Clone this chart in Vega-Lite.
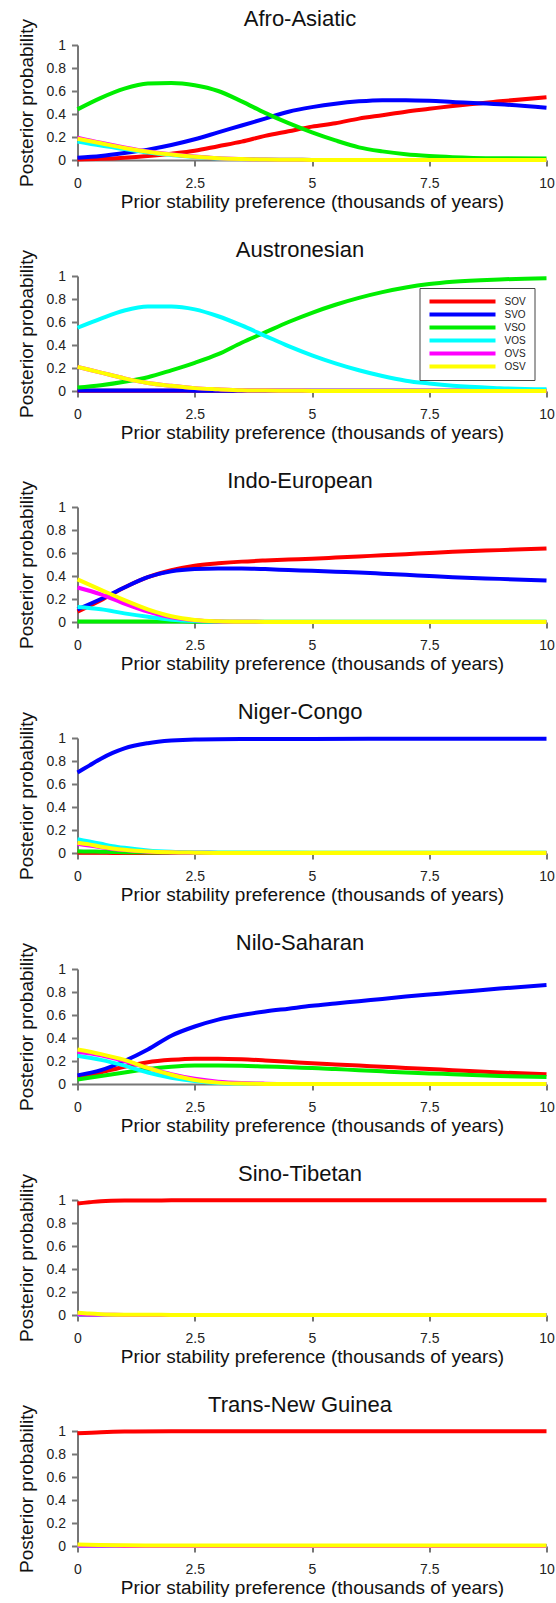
{
  "$schema": "https://vega.github.io/schema/vega-lite/v6.json",
  "padding": {"left": 16.5, "top": 7, "right": 0, "bottom": 0},
  "spacing": 27,
  "config": {
    "view": {"stroke": null},
    "font": "Liberation Sans",
    "axis": {
      "grid": false,
      "domainColor": "#777777",
      "domainWidth": 2,
      "tickColor": "#777777",
      "tickWidth": 2,
      "tickSize": 6,
      "labelFont": "Liberation Sans",
      "labelFontSize": 14,
      "labelColor": "#222222",
      "labelPadding": 10,
      "titleFont": "Liberation Sans",
      "titleFontSize": 19,
      "titleFontWeight": "normal",
      "titleColor": "#111111"
    },
    "axisY": {"labelPadding": 6, "titlePadding": 10},
    "axisX": {"titlePadding": 2, "labelFlush": false},
    "title": {"font": "Liberation Sans", "fontSize": 22, "fontWeight": "normal", "color": "#111111", "frame": "group", "baseline": "alphabetic", "offset": -12, "dx": -12}
  },
  "datasets": {
    "d": [
      {"f":"Afro-Asiatic","x":0,"SOV":0.005,"SVO":0.02,"VSO":0.44,"VOS":0.16,"OVS":0.195,"OSV":0.185},
      {"f":"Afro-Asiatic","x":0.5,"SOV":0.01,"SVO":0.035,"VSO":0.54,"VOS":0.125,"OVS":0.15,"OSV":0.145},
      {"f":"Afro-Asiatic","x":1,"SOV":0.02,"SVO":0.06,"VSO":0.62,"VOS":0.095,"OVS":0.11,"OSV":0.105},
      {"f":"Afro-Asiatic","x":1.5,"SOV":0.035,"SVO":0.09,"VSO":0.665,"VOS":0.065,"OVS":0.075,"OSV":0.072},
      {"f":"Afro-Asiatic","x":2,"SOV":0.055,"SVO":0.13,"VSO":0.67,"VOS":0.043,"OVS":0.05,"OSV":0.047},
      {"f":"Afro-Asiatic","x":2.5,"SOV":0.08,"SVO":0.18,"VSO":0.65,"VOS":0.026,"OVS":0.03,"OSV":0.028},
      {"f":"Afro-Asiatic","x":3,"SOV":0.12,"SVO":0.24,"VSO":0.6,"VOS":0.014,"OVS":0.015,"OSV":0.015},
      {"f":"Afro-Asiatic","x":3.5,"SOV":0.16,"SVO":0.3,"VSO":0.51,"VOS":0.008,"OVS":0.008,"OSV":0.008},
      {"f":"Afro-Asiatic","x":4,"SOV":0.21,"SVO":0.36,"VSO":0.41,"VOS":0.004,"OVS":0.004,"OSV":0.004},
      {"f":"Afro-Asiatic","x":4.5,"SOV":0.25,"SVO":0.42,"VSO":0.32,"VOS":0.002,"OVS":0.002,"OSV":0.002},
      {"f":"Afro-Asiatic","x":5,"SOV":0.29,"SVO":0.46,"VSO":0.24,"VOS":0.001,"OVS":0.001,"OSV":0.001},
      {"f":"Afro-Asiatic","x":5.5,"SOV":0.32,"SVO":0.49,"VSO":0.17,"VOS":0.001,"OVS":0.001,"OSV":0.001},
      {"f":"Afro-Asiatic","x":6,"SOV":0.36,"SVO":0.51,"VSO":0.11,"VOS":0.001,"OVS":0.001,"OSV":0.001},
      {"f":"Afro-Asiatic","x":6.5,"SOV":0.39,"SVO":0.52,"VSO":0.075,"VOS":0.001,"OVS":0.001,"OSV":0.001},
      {"f":"Afro-Asiatic","x":7,"SOV":0.42,"SVO":0.52,"VSO":0.05,"VOS":0.001,"OVS":0.001,"OSV":0.001},
      {"f":"Afro-Asiatic","x":7.5,"SOV":0.445,"SVO":0.515,"VSO":0.035,"VOS":0.001,"OVS":0.001,"OSV":0.001},
      {"f":"Afro-Asiatic","x":8,"SOV":0.47,"SVO":0.505,"VSO":0.025,"VOS":0.001,"OVS":0.001,"OSV":0.001},
      {"f":"Afro-Asiatic","x":9,"SOV":0.51,"SVO":0.485,"VSO":0.015,"VOS":0.001,"OVS":0.001,"OSV":0.001},
      {"f":"Afro-Asiatic","x":10,"SOV":0.545,"SVO":0.455,"VSO":0.012,"VOS":0.001,"OVS":0.001,"OSV":0.001},

      {"f":"Austronesian","x":0,"SOV":0.002,"SVO":0.005,"VSO":0.03,"VOS":0.55,"OVS":0.21,"OSV":0.21},
      {"f":"Austronesian","x":0.5,"SOV":0.002,"SVO":0.005,"VSO":0.05,"VOS":0.63,"OVS":0.16,"OSV":0.16},
      {"f":"Austronesian","x":1,"SOV":0.002,"SVO":0.005,"VSO":0.08,"VOS":0.7,"OVS":0.11,"OSV":0.11},
      {"f":"Austronesian","x":1.5,"SOV":0.002,"SVO":0.005,"VSO":0.12,"VOS":0.735,"OVS":0.07,"OSV":0.07},
      {"f":"Austronesian","x":2,"SOV":0.002,"SVO":0.004,"VSO":0.18,"VOS":0.735,"OVS":0.045,"OSV":0.045},
      {"f":"Austronesian","x":2.5,"SOV":0.002,"SVO":0.003,"VSO":0.245,"VOS":0.71,"OVS":0.025,"OSV":0.025},
      {"f":"Austronesian","x":3,"SOV":0.002,"SVO":0.003,"VSO":0.32,"VOS":0.65,"OVS":0.015,"OSV":0.015},
      {"f":"Austronesian","x":3.5,"SOV":0.002,"SVO":0.003,"VSO":0.42,"VOS":0.57,"OVS":0.007,"OSV":0.007},
      {"f":"Austronesian","x":4,"SOV":0.002,"SVO":0.003,"VSO":0.51,"VOS":0.48,"OVS":0.004,"OSV":0.004},
      {"f":"Austronesian","x":4.5,"SOV":0.002,"SVO":0.003,"VSO":0.6,"VOS":0.39,"OVS":0.002,"OSV":0.002},
      {"f":"Austronesian","x":5,"SOV":0.002,"SVO":0.003,"VSO":0.68,"VOS":0.31,"OVS":0.001,"OSV":0.001},
      {"f":"Austronesian","x":5.5,"SOV":0.002,"SVO":0.003,"VSO":0.75,"VOS":0.24,"OVS":0.001,"OSV":0.001},
      {"f":"Austronesian","x":6,"SOV":0.002,"SVO":0.003,"VSO":0.81,"VOS":0.18,"OVS":0.001,"OSV":0.001},
      {"f":"Austronesian","x":6.5,"SOV":0.002,"SVO":0.003,"VSO":0.86,"VOS":0.13,"OVS":0.001,"OSV":0.001},
      {"f":"Austronesian","x":7,"SOV":0.002,"SVO":0.003,"VSO":0.9,"VOS":0.09,"OVS":0.001,"OSV":0.001},
      {"f":"Austronesian","x":7.5,"SOV":0.002,"SVO":0.003,"VSO":0.93,"VOS":0.065,"OVS":0.001,"OSV":0.001},
      {"f":"Austronesian","x":8,"SOV":0.002,"SVO":0.003,"VSO":0.95,"VOS":0.045,"OVS":0.001,"OSV":0.001},
      {"f":"Austronesian","x":9,"SOV":0.002,"SVO":0.003,"VSO":0.97,"VOS":0.025,"OVS":0.001,"OSV":0.001},
      {"f":"Austronesian","x":10,"SOV":0.002,"SVO":0.003,"VSO":0.98,"VOS":0.015,"OVS":0.001,"OSV":0.001},

      {"f":"Indo-European","x":0,"SOV":0.09,"SVO":0.11,"VSO":0.005,"VOS":0.13,"OVS":0.3,"OSV":0.37},
      {"f":"Indo-European","x":0.5,"SOV":0.19,"SVO":0.2,"VSO":0.005,"VOS":0.11,"OVS":0.24,"OSV":0.28},
      {"f":"Indo-European","x":1,"SOV":0.3,"SVO":0.3,"VSO":0.005,"VOS":0.075,"OVS":0.16,"OSV":0.19},
      {"f":"Indo-European","x":1.5,"SOV":0.39,"SVO":0.39,"VSO":0.004,"VOS":0.045,"OVS":0.09,"OSV":0.11},
      {"f":"Indo-European","x":2,"SOV":0.45,"SVO":0.44,"VSO":0.004,"VOS":0.02,"OVS":0.04,"OSV":0.05},
      {"f":"Indo-European","x":2.5,"SOV":0.49,"SVO":0.46,"VSO":0.003,"VOS":0.008,"OVS":0.015,"OSV":0.018},
      {"f":"Indo-European","x":3,"SOV":0.51,"SVO":0.465,"VSO":0.003,"VOS":0.003,"OVS":0.005,"OSV":0.006},
      {"f":"Indo-European","x":3.5,"SOV":0.525,"SVO":0.465,"VSO":0.002,"VOS":0.001,"OVS":0.002,"OSV":0.002},
      {"f":"Indo-European","x":4,"SOV":0.535,"SVO":0.46,"VSO":0.002,"VOS":0.001,"OVS":0.001,"OSV":0.001},
      {"f":"Indo-European","x":4.5,"SOV":0.543,"SVO":0.452,"VSO":0.002,"VOS":0.001,"OVS":0.001,"OSV":0.001},
      {"f":"Indo-European","x":5,"SOV":0.55,"SVO":0.445,"VSO":0.002,"VOS":0.001,"OVS":0.001,"OSV":0.001},
      {"f":"Indo-European","x":5.5,"SOV":0.56,"SVO":0.437,"VSO":0.002,"VOS":0.001,"OVS":0.001,"OSV":0.001},
      {"f":"Indo-European","x":6,"SOV":0.57,"SVO":0.43,"VSO":0.002,"VOS":0.001,"OVS":0.001,"OSV":0.001},
      {"f":"Indo-European","x":6.5,"SOV":0.58,"SVO":0.42,"VSO":0.002,"VOS":0.001,"OVS":0.001,"OSV":0.001},
      {"f":"Indo-European","x":7,"SOV":0.59,"SVO":0.41,"VSO":0.002,"VOS":0.001,"OVS":0.001,"OSV":0.001},
      {"f":"Indo-European","x":7.5,"SOV":0.6,"SVO":0.4,"VSO":0.002,"VOS":0.001,"OVS":0.001,"OSV":0.001},
      {"f":"Indo-European","x":8,"SOV":0.61,"SVO":0.39,"VSO":0.002,"VOS":0.001,"OVS":0.001,"OSV":0.001},
      {"f":"Indo-European","x":9,"SOV":0.625,"SVO":0.375,"VSO":0.002,"VOS":0.001,"OVS":0.001,"OSV":0.001},
      {"f":"Indo-European","x":10,"SOV":0.64,"SVO":0.36,"VSO":0.002,"VOS":0.001,"OVS":0.001,"OSV":0.001},

      {"f":"Niger-Congo","x":0,"SOV":0.002,"SVO":0.7,"VSO":0.015,"VOS":0.12,"OVS":0.08,"OSV":0.09},
      {"f":"Niger-Congo","x":0.25,"SOV":0.002,"SVO":0.76,"VSO":0.013,"VOS":0.1,"OVS":0.065,"OSV":0.075},
      {"f":"Niger-Congo","x":0.5,"SOV":0.002,"SVO":0.82,"VSO":0.011,"VOS":0.08,"OVS":0.05,"OSV":0.055},
      {"f":"Niger-Congo","x":0.75,"SOV":0.001,"SVO":0.87,"VSO":0.009,"VOS":0.06,"OVS":0.035,"OSV":0.04},
      {"f":"Niger-Congo","x":1,"SOV":0.001,"SVO":0.91,"VSO":0.007,"VOS":0.045,"OVS":0.025,"OSV":0.028},
      {"f":"Niger-Congo","x":1.5,"SOV":0.001,"SVO":0.955,"VSO":0.005,"VOS":0.022,"OVS":0.011,"OSV":0.013},
      {"f":"Niger-Congo","x":2,"SOV":0.001,"SVO":0.978,"VSO":0.004,"VOS":0.01,"OVS":0.005,"OSV":0.006},
      {"f":"Niger-Congo","x":2.5,"SOV":0.001,"SVO":0.988,"VSO":0.003,"VOS":0.005,"OVS":0.002,"OSV":0.003},
      {"f":"Niger-Congo","x":3,"SOV":0.001,"SVO":0.99,"VSO":0.003,"VOS":0.003,"OVS":0.001,"OSV":0.001},
      {"f":"Niger-Congo","x":4,"SOV":0.001,"SVO":0.991,"VSO":0.003,"VOS":0.002,"OVS":0.001,"OSV":0.001},
      {"f":"Niger-Congo","x":5,"SOV":0.001,"SVO":0.992,"VSO":0.003,"VOS":0.001,"OVS":0.001,"OSV":0.001},
      {"f":"Niger-Congo","x":7.5,"SOV":0.001,"SVO":0.993,"VSO":0.003,"VOS":0.001,"OVS":0.001,"OSV":0.001},
      {"f":"Niger-Congo","x":10,"SOV":0.001,"SVO":0.993,"VSO":0.003,"VOS":0.001,"OVS":0.001,"OSV":0.001},

      {"f":"Nilo-Saharan","x":0,"SOV":0.055,"SVO":0.075,"VSO":0.04,"VOS":0.245,"OVS":0.28,"OSV":0.3},
      {"f":"Nilo-Saharan","x":0.5,"SOV":0.1,"SVO":0.12,"VSO":0.07,"VOS":0.21,"OVS":0.25,"OSV":0.26},
      {"f":"Nilo-Saharan","x":1,"SOV":0.15,"SVO":0.2,"VSO":0.1,"VOS":0.16,"OVS":0.2,"OSV":0.21},
      {"f":"Nilo-Saharan","x":1.5,"SOV":0.19,"SVO":0.3,"VSO":0.13,"VOS":0.1,"OVS":0.14,"OSV":0.14},
      {"f":"Nilo-Saharan","x":2,"SOV":0.21,"SVO":0.42,"VSO":0.15,"VOS":0.055,"OVS":0.085,"OSV":0.08},
      {"f":"Nilo-Saharan","x":2.5,"SOV":0.22,"SVO":0.5,"VSO":0.16,"VOS":0.025,"OVS":0.045,"OSV":0.035},
      {"f":"Nilo-Saharan","x":3,"SOV":0.22,"SVO":0.56,"VSO":0.16,"VOS":0.008,"OVS":0.02,"OSV":0.012},
      {"f":"Nilo-Saharan","x":3.5,"SOV":0.215,"SVO":0.6,"VSO":0.158,"VOS":0.003,"OVS":0.008,"OSV":0.004},
      {"f":"Nilo-Saharan","x":4,"SOV":0.205,"SVO":0.63,"VSO":0.152,"VOS":0.001,"OVS":0.003,"OSV":0.001},
      {"f":"Nilo-Saharan","x":4.5,"SOV":0.193,"SVO":0.655,"VSO":0.146,"VOS":0.001,"OVS":0.001,"OSV":0.001},
      {"f":"Nilo-Saharan","x":5,"SOV":0.18,"SVO":0.68,"VSO":0.14,"VOS":0.001,"OVS":0.001,"OSV":0.001},
      {"f":"Nilo-Saharan","x":5.5,"SOV":0.17,"SVO":0.7,"VSO":0.13,"VOS":0.001,"OVS":0.001,"OSV":0.001},
      {"f":"Nilo-Saharan","x":6,"SOV":0.16,"SVO":0.72,"VSO":0.12,"VOS":0.001,"OVS":0.001,"OSV":0.001},
      {"f":"Nilo-Saharan","x":6.5,"SOV":0.15,"SVO":0.74,"VSO":0.11,"VOS":0.001,"OVS":0.001,"OSV":0.001},
      {"f":"Nilo-Saharan","x":7,"SOV":0.14,"SVO":0.76,"VSO":0.1,"VOS":0.001,"OVS":0.001,"OSV":0.001},
      {"f":"Nilo-Saharan","x":7.5,"SOV":0.13,"SVO":0.778,"VSO":0.092,"VOS":0.001,"OVS":0.001,"OSV":0.001},
      {"f":"Nilo-Saharan","x":8,"SOV":0.12,"SVO":0.795,"VSO":0.085,"VOS":0.001,"OVS":0.001,"OSV":0.001},
      {"f":"Nilo-Saharan","x":9,"SOV":0.1,"SVO":0.83,"VSO":0.07,"VOS":0.001,"OVS":0.001,"OSV":0.001},
      {"f":"Nilo-Saharan","x":10,"SOV":0.085,"SVO":0.86,"VSO":0.06,"VOS":0.001,"OVS":0.001,"OSV":0.001},

      {"f":"Sino-Tibetan","x":0,"SOV":0.97,"SVO":0.001,"VSO":0.001,"VOS":0.003,"OVS":0.005,"OSV":0.02},
      {"f":"Sino-Tibetan","x":0.25,"SOV":0.98,"SVO":0.001,"VSO":0.001,"VOS":0.002,"OVS":0.003,"OSV":0.012},
      {"f":"Sino-Tibetan","x":0.5,"SOV":0.99,"SVO":0.001,"VSO":0.001,"VOS":0.001,"OVS":0.002,"OSV":0.007},
      {"f":"Sino-Tibetan","x":1,"SOV":0.995,"SVO":0.001,"VSO":0.001,"VOS":0.001,"OVS":0.001,"OSV":0.003},
      {"f":"Sino-Tibetan","x":1.5,"SOV":0.996,"SVO":0.001,"VSO":0.001,"VOS":0.001,"OVS":0.001,"OSV":0.002},
      {"f":"Sino-Tibetan","x":2,"SOV":0.997,"SVO":0.001,"VSO":0.001,"VOS":0.001,"OVS":0.001,"OSV":0.001},
      {"f":"Sino-Tibetan","x":3,"SOV":0.997,"SVO":0.001,"VSO":0.001,"VOS":0.001,"OVS":0.001,"OSV":0.001},
      {"f":"Sino-Tibetan","x":5,"SOV":0.997,"SVO":0.001,"VSO":0.001,"VOS":0.001,"OVS":0.001,"OSV":0.001},
      {"f":"Sino-Tibetan","x":7.5,"SOV":0.997,"SVO":0.001,"VSO":0.001,"VOS":0.001,"OVS":0.001,"OSV":0.001},
      {"f":"Sino-Tibetan","x":10,"SOV":0.997,"SVO":0.001,"VSO":0.001,"VOS":0.001,"OVS":0.001,"OSV":0.001},

      {"f":"Trans-New Guinea","x":0,"SOV":0.98,"SVO":0.001,"VSO":0.001,"VOS":0.001,"OVS":0.003,"OSV":0.012},
      {"f":"Trans-New Guinea","x":0.5,"SOV":0.99,"SVO":0.001,"VSO":0.001,"VOS":0.001,"OVS":0.002,"OSV":0.008},
      {"f":"Trans-New Guinea","x":1,"SOV":0.995,"SVO":0.001,"VSO":0.001,"VOS":0.001,"OVS":0.001,"OSV":0.006},
      {"f":"Trans-New Guinea","x":2,"SOV":0.997,"SVO":0.001,"VSO":0.001,"VOS":0.001,"OVS":0.001,"OSV":0.005},
      {"f":"Trans-New Guinea","x":3,"SOV":0.997,"SVO":0.001,"VSO":0.001,"VOS":0.001,"OVS":0.001,"OSV":0.005},
      {"f":"Trans-New Guinea","x":5,"SOV":0.997,"SVO":0.001,"VSO":0.001,"VOS":0.001,"OVS":0.001,"OSV":0.005},
      {"f":"Trans-New Guinea","x":7.5,"SOV":0.997,"SVO":0.001,"VSO":0.001,"VOS":0.001,"OVS":0.001,"OSV":0.005},
      {"f":"Trans-New Guinea","x":10,"SOV":0.997,"SVO":0.001,"VSO":0.001,"VOS":0.001,"OVS":0.001,"OSV":0.005}
    ]
  },
  "resolve": {"scale": {"color": "independent"}, "legend": {"color": "independent"}},
  "vconcat": [
    {
      "width": 469, "height": 115,
      "title": "Afro-Asiatic",
      "data": {"name": "d"},
      "transform": [{"filter": "datum.f === 'Afro-Asiatic'"}, {"fold": ["SOV","SVO","VSO","VOS","OVS","OSV"], "as": ["order","p"]}],
      "mark": {"type": "line", "strokeWidth": 4, "interpolate": "monotone"},
      "encoding": {
        "x": {"field": "x", "type": "quantitative", "scale": {"domain": [0, 10], "nice": false}, "axis": {"values": [0, 2.5, 5, 7.5, 10], "labelExpr": "'' + datum.value", "title": "Prior stability preference (thousands of years)"}},
        "y": {"field": "p", "type": "quantitative", "scale": {"domain": [0, 1]}, "axis": {"values": [0, 0.2, 0.4, 0.6, 0.8, 1], "labelExpr": "'' + datum.value", "title": "Posterior probability"}},
        "color": {"field": "order", "type": "nominal", "scale": {"domain": ["SOV","SVO","VSO","VOS","OVS","OSV"], "range": ["#ff0000","#0000ff","#00ee00","#00ffff","#ff00ff","#ffff00"]}, "legend": null}
      }
    },
    {
      "width": 469, "height": 115,
      "title": "Austronesian",
      "data": {"name": "d"},
      "transform": [{"filter": "datum.f === 'Austronesian'"}, {"fold": ["SOV","SVO","VSO","VOS","OVS","OSV"], "as": ["order","p"]}],
      "mark": {"type": "line", "strokeWidth": 4, "interpolate": "monotone"},
      "encoding": {
        "x": {"field": "x", "type": "quantitative", "scale": {"domain": [0, 10], "nice": false}, "axis": {"values": [0, 2.5, 5, 7.5, 10], "labelExpr": "'' + datum.value", "title": "Prior stability preference (thousands of years)"}},
        "y": {"field": "p", "type": "quantitative", "scale": {"domain": [0, 1]}, "axis": {"values": [0, 0.2, 0.4, 0.6, 0.8, 1], "labelExpr": "'' + datum.value", "title": "Posterior probability"}},
        "color": {"field": "order", "type": "nominal", "scale": {"domain": ["SOV","SVO","VSO","VOS","OVS","OSV"], "range": ["#ff0000","#0000ff","#00ee00","#00ffff","#ff00ff","#ffff00"]},
          "legend": {"orient": "top-right", "offset": 12, "title": null, "symbolType": "stroke", "symbolSize": 4356, "symbolStrokeWidth": 4, "clipHeight": 11, "labelFont": "Liberation Sans", "labelFontSize": 10, "labelColor": "#222222", "labelOffset": 7, "strokeColor": "#444444", "fillColor": "#ffffff", "padding": 8, "rowPadding": 2}}
      }
    },
    {
      "width": 469, "height": 115,
      "title": "Indo-European",
      "data": {"name": "d"},
      "transform": [{"filter": "datum.f === 'Indo-European'"}, {"fold": ["SOV","SVO","VSO","VOS","OVS","OSV"], "as": ["order","p"]}],
      "mark": {"type": "line", "strokeWidth": 4, "interpolate": "monotone"},
      "encoding": {
        "x": {"field": "x", "type": "quantitative", "scale": {"domain": [0, 10], "nice": false}, "axis": {"values": [0, 2.5, 5, 7.5, 10], "labelExpr": "'' + datum.value", "title": "Prior stability preference (thousands of years)"}},
        "y": {"field": "p", "type": "quantitative", "scale": {"domain": [0, 1]}, "axis": {"values": [0, 0.2, 0.4, 0.6, 0.8, 1], "labelExpr": "'' + datum.value", "title": "Posterior probability"}},
        "color": {"field": "order", "type": "nominal", "scale": {"domain": ["SOV","SVO","VSO","VOS","OVS","OSV"], "range": ["#ff0000","#0000ff","#00ee00","#00ffff","#ff00ff","#ffff00"]}, "legend": null}
      }
    },
    {
      "width": 469, "height": 115,
      "title": "Niger-Congo",
      "data": {"name": "d"},
      "transform": [{"filter": "datum.f === 'Niger-Congo'"}, {"fold": ["SOV","SVO","VSO","VOS","OVS","OSV"], "as": ["order","p"]}],
      "mark": {"type": "line", "strokeWidth": 4, "interpolate": "monotone"},
      "encoding": {
        "x": {"field": "x", "type": "quantitative", "scale": {"domain": [0, 10], "nice": false}, "axis": {"values": [0, 2.5, 5, 7.5, 10], "labelExpr": "'' + datum.value", "title": "Prior stability preference (thousands of years)"}},
        "y": {"field": "p", "type": "quantitative", "scale": {"domain": [0, 1]}, "axis": {"values": [0, 0.2, 0.4, 0.6, 0.8, 1], "labelExpr": "'' + datum.value", "title": "Posterior probability"}},
        "color": {"field": "order", "type": "nominal", "scale": {"domain": ["SOV","SVO","VSO","VOS","OVS","OSV"], "range": ["#ff0000","#0000ff","#00ee00","#00ffff","#ff00ff","#ffff00"]}, "legend": null}
      }
    },
    {
      "width": 469, "height": 115,
      "title": "Nilo-Saharan",
      "data": {"name": "d"},
      "transform": [{"filter": "datum.f === 'Nilo-Saharan'"}, {"fold": ["SOV","SVO","VSO","VOS","OVS","OSV"], "as": ["order","p"]}],
      "mark": {"type": "line", "strokeWidth": 4, "interpolate": "monotone"},
      "encoding": {
        "x": {"field": "x", "type": "quantitative", "scale": {"domain": [0, 10], "nice": false}, "axis": {"values": [0, 2.5, 5, 7.5, 10], "labelExpr": "'' + datum.value", "title": "Prior stability preference (thousands of years)"}},
        "y": {"field": "p", "type": "quantitative", "scale": {"domain": [0, 1]}, "axis": {"values": [0, 0.2, 0.4, 0.6, 0.8, 1], "labelExpr": "'' + datum.value", "title": "Posterior probability"}},
        "color": {"field": "order", "type": "nominal", "scale": {"domain": ["SOV","SVO","VSO","VOS","OVS","OSV"], "range": ["#ff0000","#0000ff","#00ee00","#00ffff","#ff00ff","#ffff00"]}, "legend": null}
      }
    },
    {
      "width": 469, "height": 115,
      "title": "Sino-Tibetan",
      "data": {"name": "d"},
      "transform": [{"filter": "datum.f === 'Sino-Tibetan'"}, {"fold": ["SOV","SVO","VSO","VOS","OVS","OSV"], "as": ["order","p"]}],
      "mark": {"type": "line", "strokeWidth": 4, "interpolate": "monotone"},
      "encoding": {
        "x": {"field": "x", "type": "quantitative", "scale": {"domain": [0, 10], "nice": false}, "axis": {"values": [0, 2.5, 5, 7.5, 10], "labelExpr": "'' + datum.value", "title": "Prior stability preference (thousands of years)"}},
        "y": {"field": "p", "type": "quantitative", "scale": {"domain": [0, 1]}, "axis": {"values": [0, 0.2, 0.4, 0.6, 0.8, 1], "labelExpr": "'' + datum.value", "title": "Posterior probability"}},
        "color": {"field": "order", "type": "nominal", "scale": {"domain": ["SOV","SVO","VSO","VOS","OVS","OSV"], "range": ["#ff0000","#0000ff","#00ee00","#00ffff","#ff00ff","#ffff00"]}, "legend": null}
      }
    },
    {
      "width": 469, "height": 115,
      "title": "Trans-New Guinea",
      "data": {"name": "d"},
      "transform": [{"filter": "datum.f === 'Trans-New Guinea'"}, {"fold": ["SOV","SVO","VSO","VOS","OVS","OSV"], "as": ["order","p"]}],
      "mark": {"type": "line", "strokeWidth": 4, "interpolate": "monotone"},
      "encoding": {
        "x": {"field": "x", "type": "quantitative", "scale": {"domain": [0, 10], "nice": false}, "axis": {"values": [0, 2.5, 5, 7.5, 10], "labelExpr": "'' + datum.value", "title": "Prior stability preference (thousands of years)"}},
        "y": {"field": "p", "type": "quantitative", "scale": {"domain": [0, 1]}, "axis": {"values": [0, 0.2, 0.4, 0.6, 0.8, 1], "labelExpr": "'' + datum.value", "title": "Posterior probability"}},
        "color": {"field": "order", "type": "nominal", "scale": {"domain": ["SOV","SVO","VSO","VOS","OVS","OSV"], "range": ["#ff0000","#0000ff","#00ee00","#00ffff","#ff00ff","#ffff00"]}, "legend": null}
      }
    }
  ]
}
